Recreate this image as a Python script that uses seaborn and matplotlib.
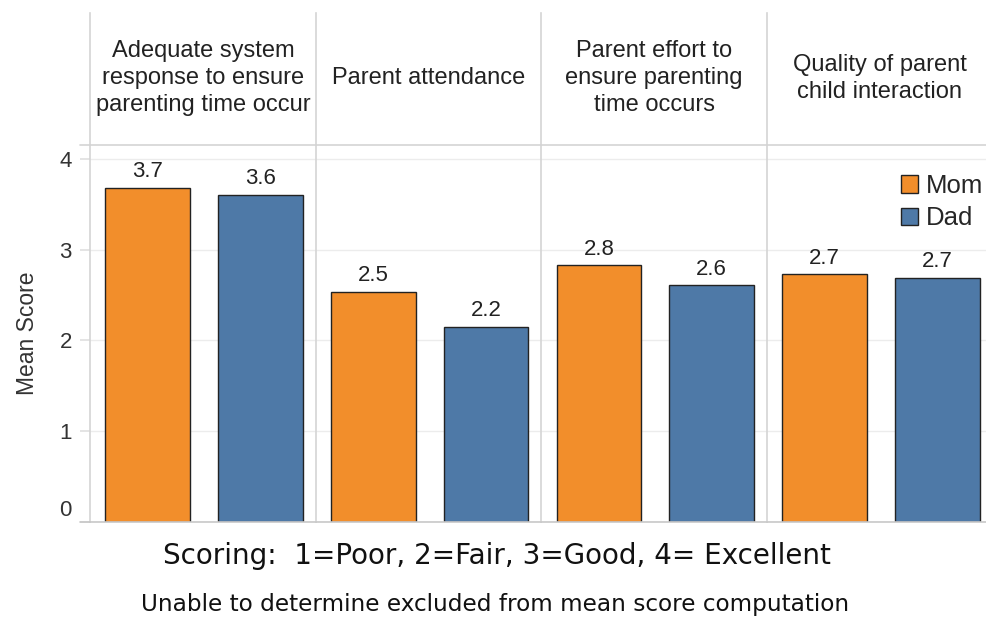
import matplotlib
matplotlib.use("Agg")
import matplotlib.pyplot as plt
import seaborn as sns
import pandas as pd
from matplotlib.patches import Patch
from matplotlib.lines import Line2D

# ---- data ----
categories = ["Adequate system\nresponse to ensure\nparenting time occur",
              "Parent attendance",
              "Parent effort to\nensure parenting\ntime occurs",
              "Quality of parent\nchild interaction"]
parents = ["Mom", "Dad"]
mom_values = [3.69, 2.54, 2.83, 2.73]
dad_values = [3.61, 2.15, 2.61, 2.69]
mom_labels = ["3.7", "2.5", "2.8", "2.7"]
dad_labels = ["3.6", "2.2", "2.6", "2.7"]
y_ticks = [0, 1, 2, 3, 4]

colors = {"Mom": "#F28E2B", "Dad": "#4E79A7"}

sns.set_theme(style="white")
plt.rcParams["font.family"] = ["Liberation Sans", "DejaVu Sans"]

rows = []
for c, m, d, ml, dl in zip(categories, mom_values, dad_values, mom_labels, dad_labels):
    rows.append({"category": c, "parent": "Mom", "value": m, "label": ml})
    rows.append({"category": c, "parent": "Dad", "value": d, "label": dl})
df = pd.DataFrame(rows)

W, H = 987, 618
fig = plt.figure(figsize=(W / 100, H / 100), dpi=100)

x0 = 90
pw = 225.7
y_base = 521.5
y_top = 145
y_head = 13
grid_c = "#ececec"
line_c = "#d4d4d4"

for i, cat in enumerate(categories):
    left = (x0 + i * pw) / W
    ax = fig.add_axes([left, (H - y_base) / H, pw / W, (y_base - y_top) / H])
    sub = df[df["category"] == cat]
    sns.barplot(data=sub, x="parent", y="value", hue="parent", order=parents,
                hue_order=parents, palette=colors, width=0.75, dodge=False,
                saturation=1, edgecolor="#222222", linewidth=1.0, legend=False,
                ax=ax, errorbar=None)
    ax.set_xlim(-0.51, 1.49)
    ax.set_ylim(0, 4.16)
    ax.set_yticks(y_ticks)
    ax.yaxis.grid(True, color=grid_c, linewidth=1.0)
    ax.set_axisbelow(True)
    ax.set_xticks([])
    ax.set_xlabel("")
    ax.set_ylabel("")
    ax.spines["right"].set_visible(False)
    ax.spines["left"].set_color(line_c)
    ax.spines["top"].set_color(line_c)
    ax.spines["bottom"].set_color("#c8c8c8")
    for s in ["left", "top", "bottom"]:
        ax.spines[s].set_linewidth(1.2)
    for j, p in enumerate(parents):
        r = sub[sub["parent"] == p].iloc[0]
        ax.annotate(r["label"], (j, r["value"]), xytext=(0, 4),
                    textcoords="offset points", ha="center", va="bottom",
                    fontsize=16, color="#222222")
    if i == 0:
        ax.tick_params(axis="y", left=True, length=7, color="#e0e0e0",
                       labelsize=16, labelcolor="#333333", pad=6)
        ax.set_ylabel("Mean Score", fontsize=16.5, color="#333333", labelpad=15)
        lbls = ax.get_yticklabels()
        lbls[0].set_va("bottom")
    else:
        ax.tick_params(axis="y", left=False, labelleft=False)

    hax = fig.add_axes([left, (H - y_top) / H, pw / W, (y_top - y_head) / H])
    hax.set_xticks([]); hax.set_yticks([])
    hax.set_facecolor("none")
    for s in ["right", "top", "bottom"]:
        hax.spines[s].set_visible(False)
    hax.spines["left"].set_color(line_c)
    hax.spines["left"].set_linewidth(1.2)
    hax.text(0.5, 0.505, cat, ha="center", va="center", fontsize=17,
             color="#222222", linespacing=1.29, transform=hax.transAxes)

# header line / baseline extension to the left
fig.add_artist(Line2D([80 / W, x0 / W], [(H - y_top) / H] * 2, color=line_c,
                      linewidth=1.2, transform=fig.transFigure))
fig.add_artist(Line2D([80 / W, x0 / W], [(H - y_base) / H] * 2, color="#c8c8c8",
                      linewidth=1.2, transform=fig.transFigure))

handles = [Patch(facecolor=colors[p], edgecolor="#222222", linewidth=1.0, label=p)
           for p in parents]
fig.legend(handles=handles, loc="upper left",
           bbox_to_anchor=(901 / W, (H - 174) / H), frameon=False,
           fontsize=18.5, handlelength=0.66, handleheight=0.66,
           handletextpad=0.3, labelspacing=0.32, borderpad=0.0,
           borderaxespad=0.0)

fig.text(497 / W, (H - 556) / H, "Scoring:  1=Poor, 2=Fair, 3=Good, 4= Excellent",
         ha="center", va="center", fontsize=20, color="#111111",
         family="DejaVu Sans")
fig.text(495 / W, (H - 604) / H, "Unable to determine excluded from mean score computation",
         ha="center", va="center", fontsize=16.7, color="#111111",
         family="DejaVu Sans")

fig.savefig("out.png", dpi=100)
